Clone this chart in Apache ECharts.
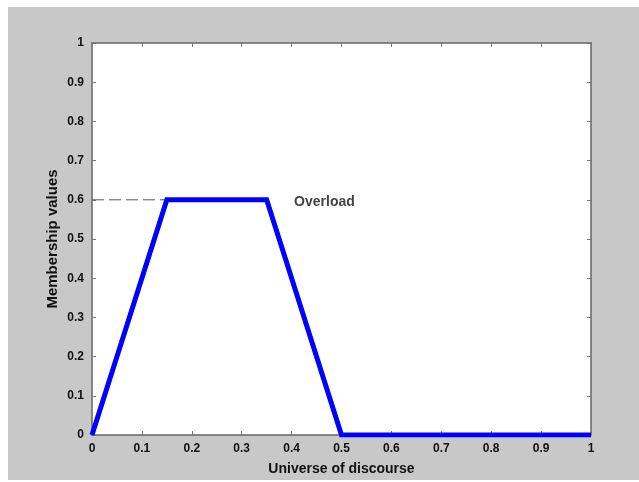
<!DOCTYPE html>
<html><head><meta charset="utf-8">
<script src="https://cdn.jsdelivr.net/npm/echarts@6/dist/echarts.min.js"></script>
<style>html,body{margin:0;padding:0;background:#fff}#c{width:639px;height:482px}</style>
</head><body><div id="c"></div>
<script>
var xs = [0, 0.15, 0.35, 0.5, 1];
var ys = [0, 0.6, 0.6, 0, 0];
var dashX = [0, 0.15];
var dashY = [0.6, 0.6];
var labelText = 'Overload';
var labelPos = [0.405, 0.6];
var xName = 'Universe of discourse';
var yName = 'Membership values';

var chart = echarts.init(document.getElementById('c'));
var font = 'Liberation Sans';
function axis(pos, show, name) {
  var horiz = pos === 'bottom' || pos === 'top';
  return {
    type: 'value', min: 0, max: 1, interval: 0.1, position: pos,
    name: name || '', nameLocation: 'middle',
    nameGap: horiz ? 27 : 32,
    nameMoveOverlap: false,
    nameTextStyle: {color: '#111', fontFamily: font, fontWeight: 'bold', fontSize: horiz ? 14 : 15},
    axisLine: {show: true, onZero: false, lineStyle: {color: '#666', width: 1.5}},
    axisTick: {show: true, inside: true, length: 4, lineStyle: {color: '#777'}},
    axisLabel: {show: show, color: '#111', fontFamily: font, fontWeight: 'bold', fontSize: 12,
      margin: 8, formatter: function (v) { return +v.toFixed(1) + ''; }},
    splitLine: {show: false}
  };
}
chart.setOption({
  animation: false,
  backgroundColor: '#fff',
  graphic: [{type: 'rect', shape: {x: 8, y: 7, width: 631, height: 473}, style: {fill: '#c8c8c8'}, z: -10}],
  grid: {left: 92, right: 48, top: 43, bottom: 47, show: true, backgroundColor: '#fff', borderWidth: 0},
  xAxis: [axis('bottom', true, xName), axis('top', false)],
  yAxis: [axis('left', true, yName), axis('right', false)],
  series: [
    {type: 'line', data: dashX.map(function (x, i) { return [x, dashY[i]]; }), symbol: 'none',
      lineStyle: {color: '#555', width: 1, type: [12, 5]}, z: 1},
    {type: 'line', data: xs.map(function (x, i) { return [x, ys[i]]; }), symbol: 'none',
      lineStyle: {color: '#0000ff', width: 5, cap: 'butt', join: 'miter'}, z: 2},
    {type: 'scatter', data: [labelPos], symbolSize: 0,
      label: {show: true, formatter: labelText, position: 'right', distance: 0, offset: [0, 2], color: '#111',
        fontFamily: font, fontWeight: 'bold', fontSize: 14}}
  ]
});
</script></body></html>
